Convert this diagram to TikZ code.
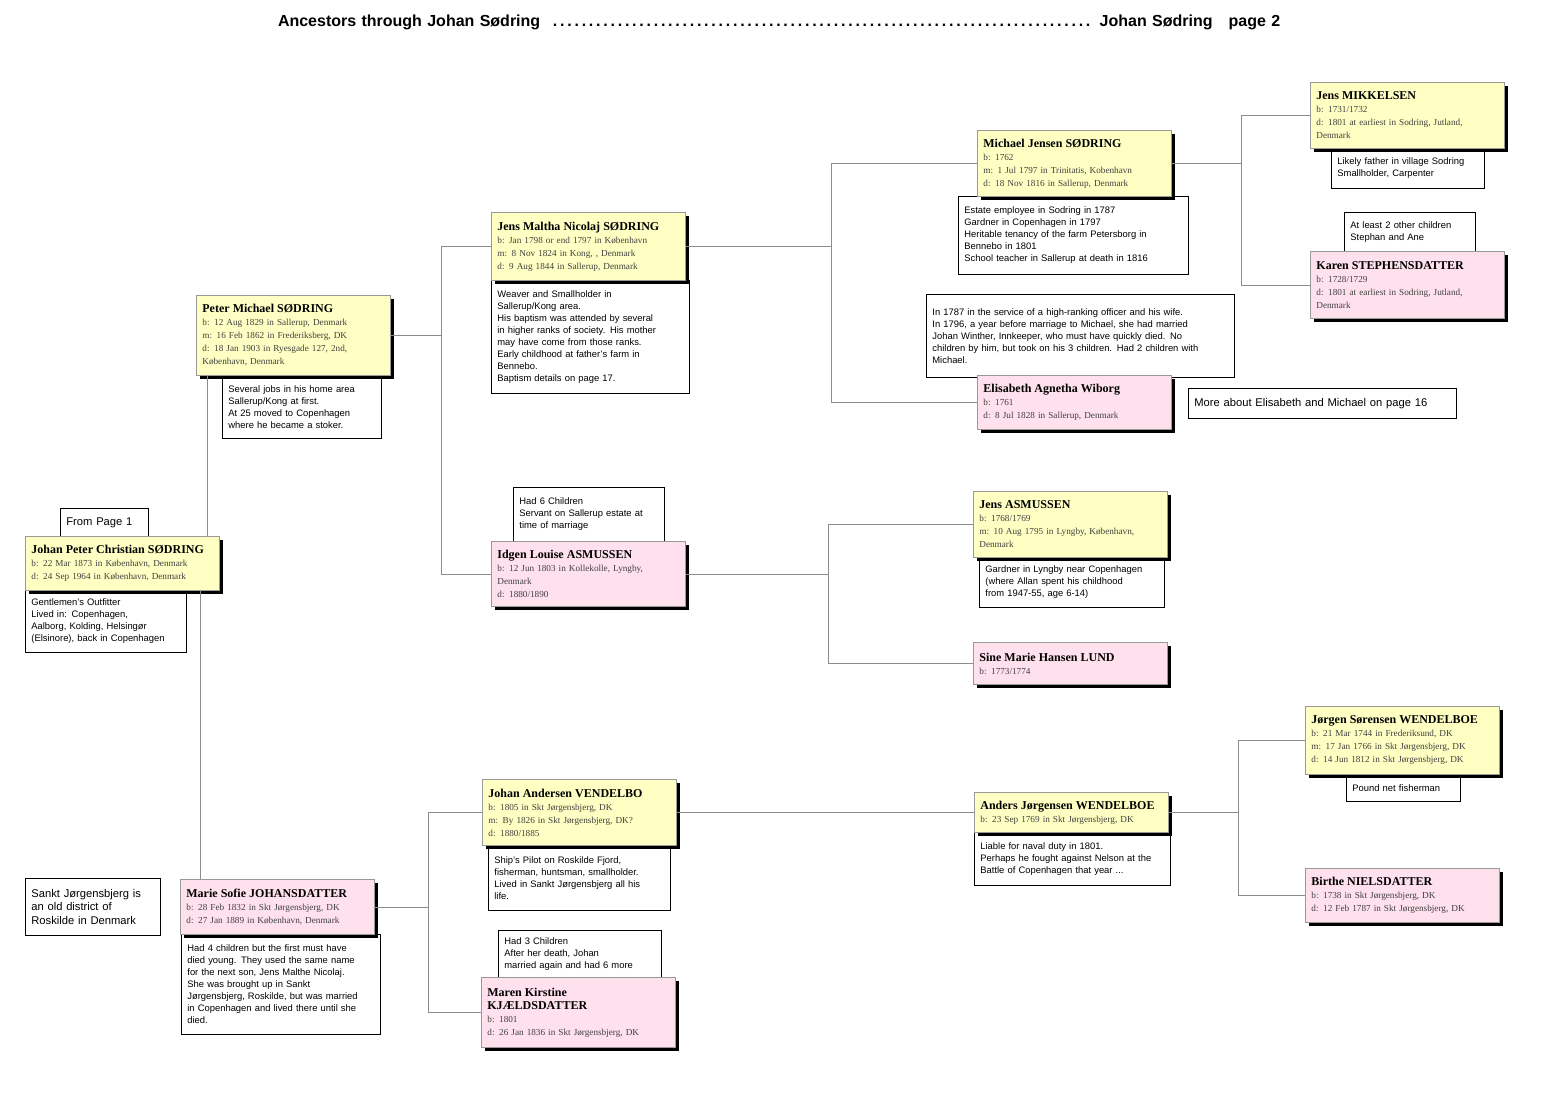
\documentclass[tikz,border=0pt]{standalone}
\usepackage{fontspec}
\setmainfont{Liberation Sans}
\newfontfamily\serfont{Liberation Serif}
\usetikzlibrary{shadows}

\definecolor{malefill}{HTML}{FFFFC4}
\definecolor{femfill}{HTML}{FFE1EE}
\newcommand{\namefont}{\serfont\bfseries\fontsize{6}{7}\selectfont}
\newcommand{\datefont}{\serfont\fontsize{4.6}{6.5}\selectfont\color{black!75}}
\newcommand{\notefont}{\fontsize{4.7}{6}\selectfont}
\newcommand{\who}[1]{{\namefont\color{black}#1}\\}

\tikzset{
  person/.style={draw=black!40, anchor=north west, text width=91pt, inner xsep=3pt,
    inner ysep=2pt, align=left, font=\datefont,
    drop shadow={shadow xshift=1.8pt, shadow yshift=-1.8pt, fill=black, opacity=1}},
  male/.style={person, fill=malefill},
  female/.style={person, fill=femfill},
  note/.style={draw=black, fill=white, anchor=north west, inner xsep=3pt, inner ysep=2pt,
    align=left, font=\notefont},
  link/.style={draw=black!45, line width=0.4pt}
}

\begin{document}
\begin{tikzpicture}[x=0.5pt, y=-0.5pt]
\useasboundingbox (0,0) rectangle (1558,1100);

% title
\node[text width=501pt, inner sep=0pt, font=\bfseries\fontsize{8}{9}\selectfont] (title) at (779,22)
  {Ancestors through Johan Sødring \leaders\hbox to 3.6pt{\hss.\hss}\hfill\ Johan Sødring\quad page 2};

% notes
\node[note, text width=74.5pt, minimum height=31pt] (n1) at (25,590)
  {Gentlemen's Outfitter\\Lived in: Copenhagen,\\Aalborg, Kolding, Helsingør\\(Elsinore), back in Copenhagen};
\node[note, text width=38pt, minimum height=14pt, font=\fontsize{5.6}{6.5}\selectfont] (from) at (60,508) {From Page 1};
\node[note, text width=73.5pt, minimum height=31.5pt] (n2) at (222,375)
  {Several jobs in his home area\\Sallerup/Kong at first.\\At 25 moved to Copenhagen\\where he became a stoker.};
\node[note, text width=93.5pt, minimum height=50pt] (n3) at (181,934)
  {Had 4 children but the first must have\\died young. They used the same name\\for the next son, Jens Malthe Nicolaj.\\She was brought up in Sankt\\Jørgensbjerg, Roskilde, but was married\\in Copenhagen and lived there until she\\died.};
\node[note, text width=61.5pt, minimum height=28.5pt, font=\fontsize{5.6}{6.6}\selectfont] (sj) at (25,878)
  {Sankt Jørgensbjerg is\\an old district of\\Roskilde in Denmark};
\node[note, text width=93pt, minimum height=56.5pt] (n4) at (491,280)
  {Weaver and Smallholder in\\Sallerup/Kong area.\\His baptism was attended by several\\in higher ranks of society. His mother\\may have come from those ranks.\\Early childhood at father's farm in\\Bennebo.\\Baptism details on page 17.};
\node[note, text width=69.5pt, minimum height=27pt] (n5) at (513,487)
  {Had 6 Children\\Servant on Sallerup estate at\\time of marriage\\[3pt]};
\node[note, text width=85pt, minimum height=32.5pt] (n6) at (488,845)
  {Ship's Pilot on Roskilde Fjord,\\fisherman, huntsman, smallholder.\\Lived in Sankt Jørgensbjerg all his\\life.};
\node[note, text width=75.5pt, minimum height=23.5pt] (n7) at (498,930)
  {Had 3 Children\\After her death, Johan\\married again and had 6 more};
\node[note, text width=109pt, minimum height=39pt] (n8) at (958,196)
  {Estate employee in Sodring in 1787\\Gardner in Copenhagen in 1797\\Heritable tenancy of the farm Petersborg in\\Bennebo in 1801\\School teacher in Sallerup at death in 1816};
\node[note, text width=148pt, minimum height=41.5pt] (n9) at (926,294)
  {In 1787 in the service of a high-ranking officer and his wife.\\In 1796, a year before marriage to Michael, she had married\\Johan Winther, Innkeeper, who must have quickly died. No\\children by him, but took on his 3 children. Had 2 children with\\Michael.\\[3pt]};
\node[note, text width=128pt, minimum height=15pt, font=\fontsize{5.6}{6.5}\selectfont] (more) at (1188,388)
  {More about Elisabeth and Michael on page 16};
\node[note, text width=86.5pt, minimum height=25pt] (n10) at (979,557)
  {Gardner in Lyngby near Copenhagen\\(where Allan spent his childhood\\from 1947-55, age 6-14)};
\node[note, text width=92pt, minimum height=26.5pt] (n12) at (974,832)
  {Liable for naval duty in 1801.\\Perhaps he fought against Nelson at the\\Battle of Copenhagen that year ...};
\node[note, text width=70.5pt, minimum height=20pt] (n13) at (1331,148)
  {Likely father in village Sodring\\Smallholder, Carpenter};
\node[note, text width=59.5pt, minimum height=19.5pt] (n14) at (1344,212)
  {At least 2 other children\\Stephan and Ane};
\node[note, text width=51pt, minimum height=13.5pt] (n15) at (1346,774)
  {Pound net fisherman};

% persons
\node[male, minimum height=27pt] (p1) at (25,536)
  {\who{Johan Peter Christian SØDRING}b: 22 Mar 1873 in København, Denmark\\d: 24 Sep 1964 in København, Denmark};
\node[male, minimum height=40pt] (p2) at (196,295)
  {\who{Peter Michael SØDRING}b: 12 Aug 1829 in Sallerup, Denmark\\m: 16 Feb 1862 in Frederiksberg, DK\\d: 18 Jan 1903 in Ryesgade 127, 2nd,\\København, Denmark};
\node[female, minimum height=27.5pt] (p3) at (180,879)
  {\who{Marie Sofie JOHANSDATTER}b: 28 Feb 1832 in Skt Jørgensbjerg, DK\\d: 27 Jan 1889 in København, Denmark};
\node[male, minimum height=34pt] (p4) at (491,212)
  {\who{Jens Maltha Nicolaj SØDRING}b: Jan 1798 or end 1797 in København\\m: 8 Nov 1824 in Kong, , Denmark\\d: 9 Aug 1844 in Sallerup, Denmark};
\node[female, minimum height=32.5pt] (p5) at (491,541)
  {\who{Idgen Louise ASMUSSEN}b: 12 Jun 1803 in Kollekolle, Lyngby,\\Denmark\\d: 1880/1890};
\node[male, minimum height=33pt] (p6) at (482,779)
  {\who{Johan Andersen VENDELBO}b: 1805 in Skt Jørgensbjerg, DK\\m: By 1826 in Skt Jørgensbjerg, DK?\\d: 1880/1885};
\node[female, minimum height=35pt] (p7) at (481,977)
  {\who{Maren Kirstine\\KJÆLDSDATTER}b: 1801\\d: 26 Jan 1836 in Skt Jørgensbjerg, DK};
\node[male, minimum height=33pt] (p8) at (977,130)
  {\who{Michael Jensen SØDRING}b: 1762\\m: 1 Jul 1797 in Trinitatis, Kobenhavn\\d: 18 Nov 1816 in Sallerup, Denmark};
\node[female, minimum height=27pt] (p9) at (977,375)
  {\who{Elisabeth Agnetha Wiborg}b: 1761\\d: 8 Jul 1828 in Sallerup, Denmark};
\node[male, minimum height=33pt] (p10) at (973,491)
  {\who{Jens ASMUSSEN}b: 1768/1769\\m: 10 Aug 1795 in Lyngby, København,\\Denmark};
\node[female, minimum height=21pt] (p11) at (973,642)
  {\who{Sine Marie Hansen LUND}b: 1773/1774};
\node[male, minimum height=20pt] (p12) at (974,792)
  {\who{Anders Jørgensen WENDELBOE}b: 23 Sep 1769 in Skt Jørgensbjerg, DK};
\node[male, minimum height=33pt] (p13) at (1310,82)
  {\who{Jens MIKKELSEN}b: 1731/1732\\d: 1801 at earliest in Sodring, Jutland,\\Denmark};
\node[female, minimum height=33.5pt] (p14) at (1310,251)
  {\who{Karen STEPHENSDATTER}b: 1728/1729\\d: 1801 at earliest in Sodring, Jutland,\\Denmark};
\node[male, minimum height=34pt] (p15) at (1305,706)
  {\who{Jørgen Sørensen WENDELBOE}b: 21 Mar 1744 in Frederiksund, DK\\m: 17 Jan 1766 in Skt Jørgensbjerg, DK\\d: 14 Jun 1812 in Skt Jørgensbjerg, DK};
\node[female, minimum height=27pt] (p16) at (1305,868)
  {\who{Birthe NIELSDATTER}b: 1738 in Skt Jørgensbjerg, DK\\d: 12 Feb 1787 in Skt Jørgensbjerg, DK};

% connectors
\coordinate (ja) at (207,0);
\coordinate (jb) at (200,0);
\draw[link] (p2.south -| ja) -- (p1.north -| ja);
\draw[link] (p1.south -| jb) -- (p3.north -| jb);
\draw[link] (p2.east) -- ++(51,0) coordinate (j2);
\draw[link] (p4.west) -| (j2) |- (p5.west);
\draw[link] (p3.east) -- ++(54,0) coordinate (j3);
\draw[link] (p6.west) -| (j3) |- (p7.west);
\draw[link] (p4.east) -- ++(146,0) coordinate (j4);
\draw[link] (p8.west) -| (j4) |- (p9.west);
\draw[link] (p5.east) -- ++(143,0) coordinate (j5);
\draw[link] (p10.west) -| (j5) |- (p11.west);
\draw[link] (p6.east) -- (p12.west);
\draw[link] (p8.east) -- ++(70,0) coordinate (j8);
\draw[link] (p13.west) -| (j8) |- (p14.west);
\draw[link] (p12.east) -- ++(70,0) coordinate (j12);
\draw[link] (p15.west) -| (j12) |- (p16.west);
\end{tikzpicture}
\end{document}
